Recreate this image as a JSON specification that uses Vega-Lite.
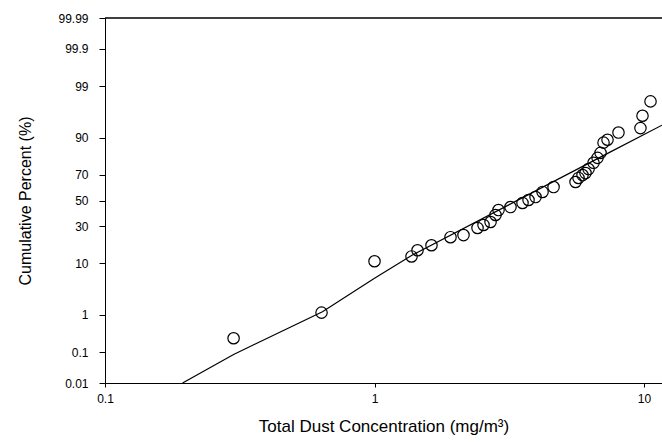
{
  "$schema": "https://vega.github.io/schema/vega-lite/v6.json",
  "width": 557,
  "height": 365,
  "autosize": "none",
  "padding": {"left": 105, "top": 18, "right": 0, "bottom": 59},
  "background": "white",
  "config": {
    "view": {"stroke": null},
    "font": "Liberation Sans",
    "axis": {
      "domainColor": "black",
      "tickColor": "black",
      "labelColor": "black",
      "titleColor": "black",
      "grid": false,
      "labelFontSize": 12,
      "titleFontWeight": "normal",
      "labelFlush": false,
      "labelOverlap": false
    }
  },
  "datasets": {
    "obs": [
      {"conc": 0.30, "pct": 0.27},
      {"conc": 0.636, "pct": 1.15},
      {"conc": 1.0, "pct": 10.9},
      {"conc": 1.372, "pct": 12.9},
      {"conc": 1.444, "pct": 15.6},
      {"conc": 1.627, "pct": 18.2},
      {"conc": 1.914, "pct": 22.8},
      {"conc": 2.139, "pct": 24.1},
      {"conc": 2.411, "pct": 28.8},
      {"conc": 2.538, "pct": 30.9},
      {"conc": 2.695, "pct": 33.1},
      {"conc": 2.812, "pct": 38.4},
      {"conc": 2.885, "pct": 42.3},
      {"conc": 3.196, "pct": 44.7},
      {"conc": 3.541, "pct": 48.0},
      {"conc": 3.728, "pct": 50.4},
      {"conc": 3.958, "pct": 52.8},
      {"conc": 4.202, "pct": 56.9},
      {"conc": 4.617, "pct": 60.8},
      {"conc": 5.570, "pct": 64.7},
      {"conc": 5.714, "pct": 67.7},
      {"conc": 5.912, "pct": 69.8},
      {"conc": 6.066, "pct": 71.2},
      {"conc": 6.225, "pct": 73.9},
      {"conc": 6.496, "pct": 77.8},
      {"conc": 6.722, "pct": 80.7},
      {"conc": 6.897, "pct": 83.3},
      {"conc": 7.075, "pct": 87.9},
      {"conc": 7.321, "pct": 89.1},
      {"conc": 8.04, "pct": 91.6},
      {"conc": 9.70, "pct": 93.0},
      {"conc": 9.87, "pct": 95.7},
      {"conc": 10.57, "pct": 97.8}
    ],
    "fit": [
      {"conc": 0.194, "pct": 0.01},
      {"conc": 0.300, "pct": 0.088},
      {"conc": 0.641, "pct": 1.22},
      {"conc": 1.0, "pct": 5.72},
      {"conc": 1.372, "pct": 13.3},
      {"conc": 7.51, "pct": 83.8},
      {"conc": 11.66, "pct": 93.7}
    ]
  },
  "layer": [
    {
      "data": {"name": "fit"},
      "mark": {"type": "line", "color": "black", "strokeWidth": 1.2, "clip": true},
      "encoding": {
        "x": {
          "field": "conc", "type": "quantitative",
          "title": "Total Dust Concentration (mg/m³)",
          "scale": {"type": "log", "domain": [0.1, 11.66], "nice": false},
          "axis": {"values": [0.1, 1, 10], "tickCount": 20, "labelExpr": "'' + datum.value", "tickSize": 4, "labelPadding": 6, "titleFontSize": 17, "titlePadding": 14, "labelOverlap": false}
        },
        "y": {
          "field": "pct", "type": "quantitative",
          "title": "Cumulative Percent (%)",
          "scale": {
            "type": "linear", "zero": false, "nice": false,
            "domain": [0.01, 0.02, 0.05, 0.1, 0.2, 0.5, 1, 2, 3, 5, 7, 10, 15, 20, 25, 30, 35, 40, 45, 50, 55, 60, 65, 70, 75, 80, 85, 90, 93, 95, 97, 98, 99, 99.5, 99.8, 99.9, 99.95, 99.98, 99.99],
            "range": [365, 356.2, 344.0, 334.1, 323.7, 308.9, 296.6, 283.3, 274.8, 263.2, 254.9, 245.4, 233.4, 223.8, 215.6, 208.2, 201.4, 194.9, 188.7, 182.5, 176.3, 170.1, 163.6, 156.8, 149.4, 141.2, 131.6, 119.6, 110.1, 101.8, 90.2, 81.7, 68.4, 56.1, 41.3, 30.9, 21.0, 8.8, 0]
          },
          "axis": {"values": [0.01, 0.1, 1, 10, 30, 50, 70, 90, 99, 99.9, 99.99], "tickCount": 50, "labelExpr": "'' + datum.value", "tickSize": 6, "labelPadding": 11, "titleFontSize": 16, "titlePadding": 24, "labelOverlap": false}
        }
      }
    },
    {
      "data": {"name": "obs"},
      "mark": {"type": "point", "shape": "circle", "filled": false, "stroke": "black", "strokeWidth": 1.2, "size": 130, "opacity": 1},
      "encoding": {
        "x": {"field": "conc", "type": "quantitative", "title": "Total Dust Concentration (mg/m³)"},
        "y": {"field": "pct", "type": "quantitative", "title": "Cumulative Percent (%)"}
      }
    },
    {
      "data": {"values": [{}]},
      "mark": {"type": "rule", "color": "black", "strokeWidth": 1.5},
      "encoding": {"y": {"datum": 99.99}}
    }
  ]
}
